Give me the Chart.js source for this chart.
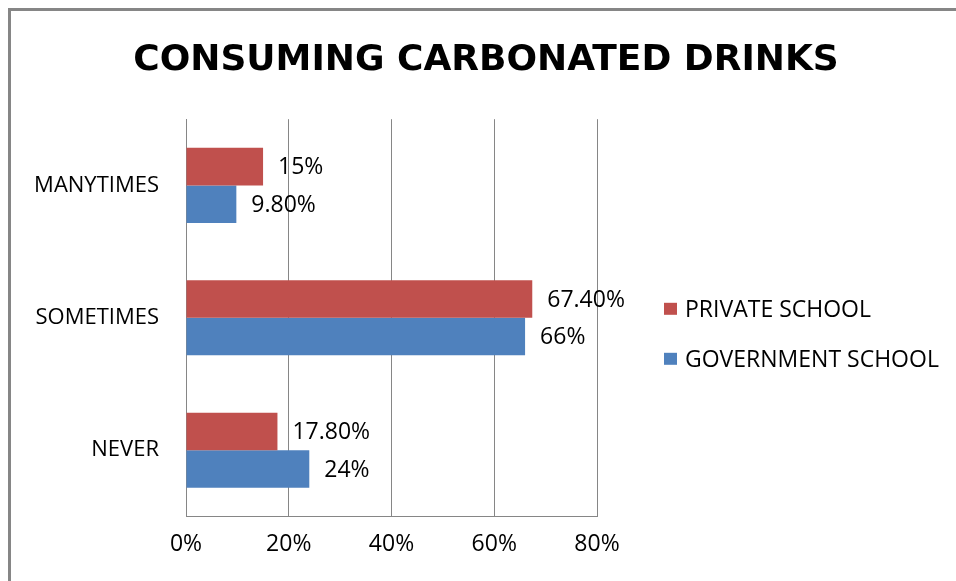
<!DOCTYPE html>
<html>
<head>
<meta charset="utf-8">
<title>Consuming carbonated drinks</title>
<script src="https://cdn.jsdelivr.net/npm/chart.js@4.4.1/dist/chart.umd.min.js"></script>
<style>
  html, body { margin: 0; padding: 0; background: #fff; overflow: hidden; }
  body { width: 956px; height: 581px; position: relative; }
  #frame { position: absolute; left: 8px; top: 8px; width: 1000px; height: 1000px; border: 3px solid #868686; }
  #chartBox { position: absolute; left: 16px; top: 0; width: 940px; height: 581px; }
</style>
</head>
<body>
<div id="frame"></div>
<div id="chartBox"><canvas id="myChart"></canvas></div>
<script>
var categories = ['MANYTIMES', 'SOMETIMES', 'NEVER'];
var privateSchool = [15, 67.4, 17.8];
var governmentSchool = [9.8, 66, 24];
var xTicks = [0, 20, 40, 60, 80];

var FONT = "'Open Sans', sans-serif";

// 15 -> "15%", 9.8 -> "9.80%"
function pct(v) {
    return (Number.isInteger(v) ? v : v.toFixed(2)) + '%';
}

// value text just past the end of each bar
var barLabels = {
    id: 'barLabels',
    afterDatasetsDraw: function (chart) {
        var ctx = chart.ctx;
        ctx.save();
        ctx.font = '23px ' + FONT;
        ctx.fillStyle = '#000';
        ctx.textBaseline = 'middle';
        chart.data.datasets.forEach(function (ds, i) {
            chart.getDatasetMeta(i).data.forEach(function (bar, j) {
                ctx.fillText(pct(ds.data[j]), bar.x + 15, bar.y + 1);
            });
        });
        ctx.restore();
    }
};

// legend column to the right of the plot
var sideLegend = {
    id: 'sideLegend',
    afterDraw: function (chart) {
        var area = chart.chartArea;
        var ctx = chart.ctx;
        var x = area.right + 67;
        var y = (area.top + area.bottom) / 2 - 8;
        ctx.save();
        ctx.font = '23px ' + FONT;
        ctx.textBaseline = 'middle';
        chart.data.datasets.forEach(function (ds, i) {
            var cy = y + i * 50;
            ctx.fillStyle = ds.backgroundColor;
            ctx.fillRect(x, cy - 7, 13, 12);
            ctx.fillStyle = '#000';
            ctx.fillText(ds.label, x + 21, cy + 1);
        });
        ctx.restore();
    }
};

var ctx = document.getElementById('myChart').getContext('2d');
var myBarChart = new Chart(ctx, {
    type: 'bar',
    data: {
        labels: categories,
        datasets: [
            {
                label: 'PRIVATE SCHOOL',
                data: privateSchool,
                backgroundColor: '#C0504D',
                categoryPercentage: 0.567,
                barPercentage: 1.0
            },
            {
                label: 'GOVERNMENT SCHOOL',
                data: governmentSchool,
                backgroundColor: '#4F81BD',
                categoryPercentage: 0.567,
                barPercentage: 1.0
            }
        ]
    },
    options: {
        indexAxis: 'y',
        responsive: true,
        maintainAspectRatio: false,
        animation: false,
        layout: {
            padding: {
                left: 0,
                right: 0,
                top: 0,
                bottom: 9
            }
        },
        scales: {
            x: {
                min: 0,
                max: 80,
                afterBuildTicks: function (scale) {
                    scale.ticks = xTicks.map(function (v) { return { value: v }; });
                },
                grid: {
                    color: '#868686',
                    drawTicks: false
                },
                border: {
                    color: '#868686'
                },
                ticks: {
                    color: '#000',
                    padding: 14,
                    font: {
                        family: FONT,
                        size: 23
                    },
                    callback: function (v) { return v + '%'; }
                }
            },
            y: {
                grid: {
                    display: false,
                    drawTicks: false
                },
                border: {
                    color: '#868686'
                },
                ticks: {
                    color: '#000',
                    padding: 27,
                    font: {
                        family: FONT,
                        size: 22
                    }
                },
                afterFit: function (scale) {
                    scale.width = 170;
                }
            },
            // empty box on the right that keeps room for the legend column
            legendSpace: {
                type: 'linear',
                position: 'right',
                grid: { display: false },
                border: { display: false },
                ticks: { display: false },
                afterFit: function (scale) {
                    scale.width = 359;
                }
            }
        },
        plugins: {
            legend: {
                display: false
            },
            tooltip: {
                enabled: false
            },
            title: {
                display: true,
                text: 'CONSUMING CARBONATED DRINKS',
                color: '#000',
                font: {
                    family: "'DejaVu Sans', sans-serif",
                    size: 36,
                    weight: 'bold'
                },
                padding: {
                    top: 39,
                    bottom: 37
                }
            }
        }
    },
    plugins: [barLabels, sideLegend]
});
</script>
</body>
</html>
